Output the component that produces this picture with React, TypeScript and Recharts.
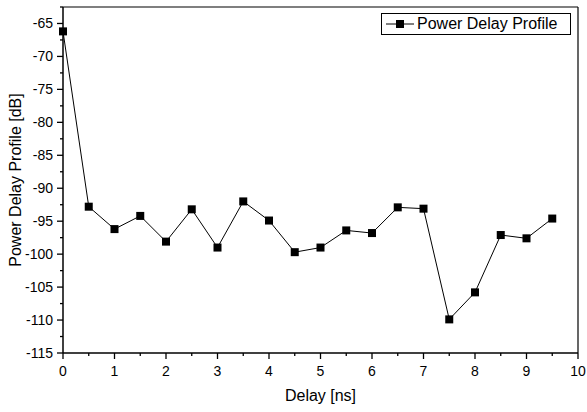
import React from 'react';
import { LineChart, Line, XAxis, YAxis, ReferenceLine } from 'recharts';

// Delay in ns, profile in dB
const delays = [0, 0.5, 1, 1.5, 2, 2.5, 3, 3.5, 4, 4.5, 5, 5.5, 6, 6.5, 7, 7.5, 8, 8.5, 9, 9.5];
const profile = [-66.2, -92.8, -96.2, -94.2, -98.1, -93.2, -99.0, -92.0, -94.9, -99.7, -99.0, -96.4, -96.8, -92.9, -93.1, -109.9, -105.8, -97.1, -97.6, -94.6];

const xTicks = [0, 0.5, 1, 1.5, 2, 2.5, 3, 3.5, 4, 4.5, 5, 5.5, 6, 6.5, 7, 7.5, 8, 8.5, 9, 9.5, 10];
const yTicks = [-115, -112.5, -110, -107.5, -105, -102.5, -100, -97.5, -95, -92.5, -90, -87.5, -85, -82.5, -80, -77.5, -75, -72.5, -70, -67.5, -65, -62.5];

const data = delays.map((d, i) => ({ delay: d, pdp: profile[i] }));

const FONT = '"Liberation Sans", Arial, sans-serif';

const XTick = (props: any) => {
    const { x, y, payload } = props;
    const major = Number.isInteger(payload.value);
    return (
        <g>
            <line x1={x} x2={x} y1={y} y2={y + (major ? 6 : 3)} stroke="#000" strokeWidth={1.3} />
            {major && (
                <text x={x} y={y + 23} textAnchor="middle" fontSize={14} fontFamily={FONT} fill="#000">
                    {payload.value}
                </text>
            )}
        </g>
    );
};

const YTick = (props: any) => {
    const { x, y, payload } = props;
    const major = payload.value % 5 === 0;
    return (
        <g>
            <line x1={x} x2={x - (major ? 6 : 3)} y1={y} y2={y} stroke="#000" strokeWidth={1.3} />
            {major && (
                <text x={x - 10} y={y + 5} textAnchor="end" fontSize={14} fontFamily={FONT} fill="#000">
                    {payload.value}
                </text>
            )}
        </g>
    );
};

const SquareDot = (props: any) => {
    const { cx, cy, index } = props;
    return <rect key={`dot-${index}`} x={cx - 4} y={cy - 4} width={8} height={8} fill="#000" />;
};

export default function App() {
    return (
        <div style={{ position: 'absolute', left: 0, top: 0, width: 587, height: 412, background: '#fff' }}>
            <LineChart width={587} height={412} data={data} margin={{ top: 7, right: 9, left: 0, bottom: 0 }}>
                <XAxis
                    dataKey="delay"
                    type="number"
                    domain={[0, 10]}
                    ticks={xTicks}
                    interval={0}
                    height={59}
                    tickSize={0}
                    tickMargin={0}
                    tickLine={false}
                    tick={<XTick />}
                    axisLine={{ stroke: '#000', strokeWidth: 1.5 }}
                    label={{ value: 'Delay [ns]', position: 'center', dy: 13, style: { fontSize: 16, fontFamily: FONT, fill: '#000' } }}
                />
                <YAxis
                    type="number"
                    domain={[-115, -62.5]}
                    ticks={yTicks}
                    interval={0}
                    width={63}
                    tickSize={0}
                    tickMargin={0}
                    tickLine={false}
                    tick={<YTick />}
                    axisLine={{ stroke: '#000', strokeWidth: 1.5 }}
                    label={{ value: 'Power Delay Profile [dB]', angle: -90, position: 'center', dx: -16, style: { fontSize: 16, fontFamily: FONT, fill: '#000' } }}
                />
                <ReferenceLine y={-62.5} stroke="#000" strokeWidth={1.2} />
                <ReferenceLine x={10} stroke="#000" strokeWidth={1.2} />
                <Line
                    dataKey="pdp"
                    stroke="#000"
                    strokeWidth={1}
                    dot={<SquareDot />}
                    activeDot={false}
                    isAnimationActive={false}
                />
            </LineChart>
            <div
                style={{
                    position: 'absolute',
                    left: 381,
                    top: 13,
                    width: 188,
                    height: 20,
                    border: '1px solid #000',
                    background: '#fff',
                    display: 'flex',
                    alignItems: 'center',
                    fontFamily: FONT,
                    fontSize: 16,
                }}
            >
                <svg width={32} height={20} style={{ marginLeft: 3 }}>
                    <line x1={1} x2={29} y1={10} y2={10} stroke="#000" strokeWidth={1} />
                    <rect x={11} y={6} width={8} height={8} fill="#000" />
                </svg>
                <span>Power Delay Profile</span>
            </div>
        </div>
    );
}
